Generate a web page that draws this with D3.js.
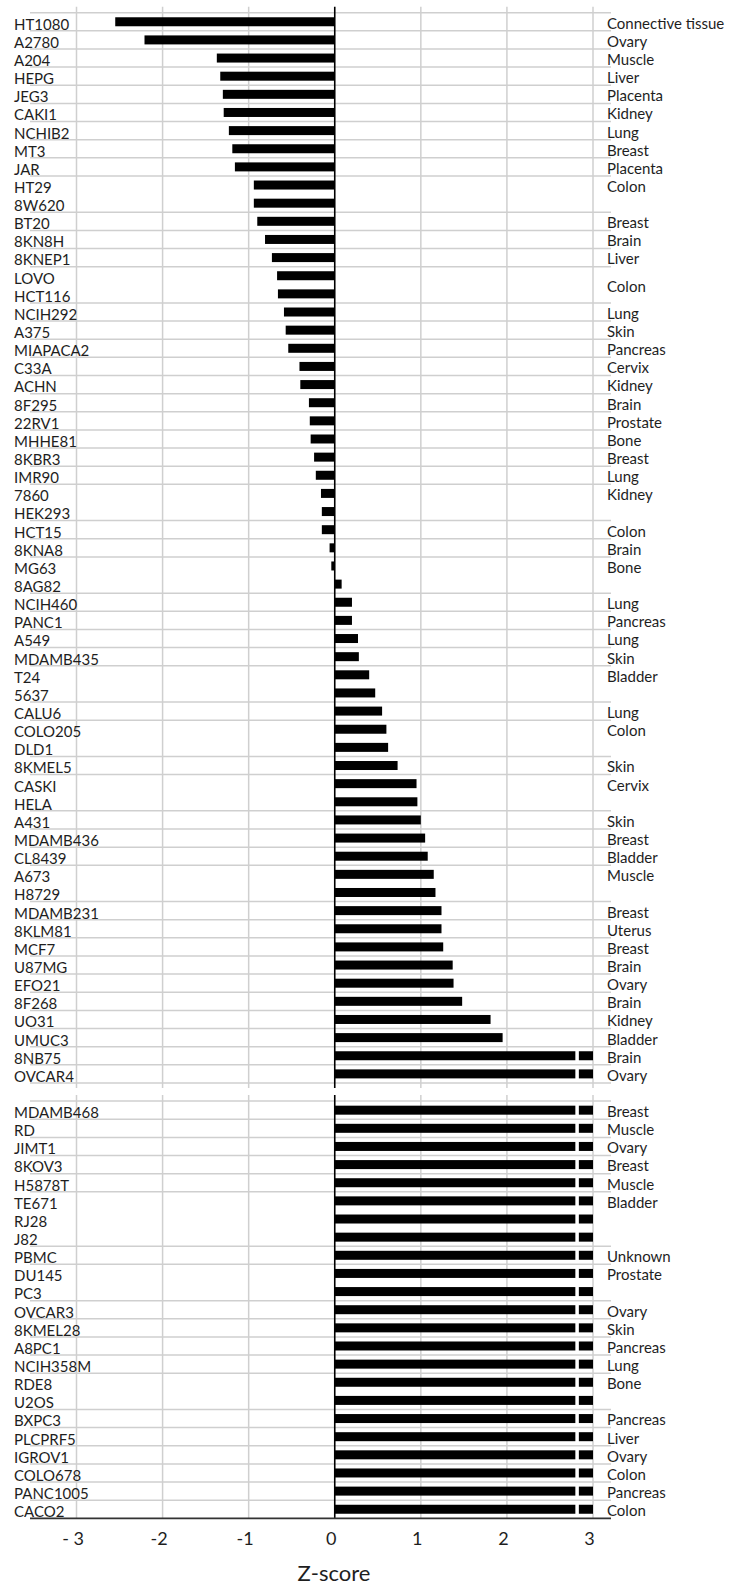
<!DOCTYPE html>
<html>
<head>
<meta charset="utf-8">
<script src="https://cdn.jsdelivr.net/npm/d3@7"></script>
<style>
  body { margin: 0; background: #fff; }
  text { font-family: Lato, "Open Sans", sans-serif; fill: #1e1e1e; }
</style>
</head>
<body>
<div id="chart"></div>
<script>
// Cell lines, upper panel (sorted by Z-score)
var cellLinesTop = ["HT1080", "A2780", "A204", "HEPG", "JEG3", "CAKI1", "NCHIB2", "MT3", "JAR", "HT29",
    "8W620", "BT20", "8KN8H", "8KNEP1", "LOVO", "HCT116", "NCIH292", "A375", "MIAPACA2", "C33A",
    "ACHN", "8F295", "22RV1", "MHHE81", "8KBR3", "IMR90", "7860", "HEK293", "HCT15", "8KNA8",
    "MG63", "8AG82", "NCIH460", "PANC1", "A549", "MDAMB435", "T24", "5637", "CALU6", "COLO205",
    "DLD1", "8KMEL5", "CASKI", "HELA", "A431", "MDAMB436", "CL8439", "A673", "H8729", "MDAMB231",
    "8KLM81", "MCF7", "U87MG", "EFO21", "8F268", "UO31", "UMUC3", "8NB75", "OVCAR4"];

// Z-scores, upper panel (3 = off the scale, drawn broken)
var zTop = [-2.55, -2.21, -1.37, -1.33, -1.30, -1.29, -1.23, -1.19, -1.16, -0.94,
    -0.94, -0.90, -0.81, -0.73, -0.67, -0.66, -0.59, -0.57, -0.54, -0.41,
    -0.40, -0.30, -0.29, -0.28, -0.24, -0.22, -0.16, -0.15, -0.15, -0.06,
    -0.04, 0.08, 0.20, 0.20, 0.27, 0.28, 0.40, 0.47, 0.55, 0.60,
    0.62, 0.73, 0.95, 0.96, 1.00, 1.05, 1.08, 1.15, 1.17, 1.24,
    1.24, 1.26, 1.37, 1.38, 1.48, 1.81, 1.95, 3, 3];

// Tissue of origin ("" = same group as the row above)
var tissueTop = ["Connective tissue", "Ovary", "Muscle", "Liver", "Placenta", "Kidney", "Lung", "Breast", "Placenta", "Colon",
    "", "Breast", "Brain", "Liver", "Colon", "", "Lung", "Skin", "Pancreas", "Cervix",
    "Kidney", "Brain", "Prostate", "Bone", "Breast", "Lung", "Kidney", "", "Colon", "Brain",
    "Bone", "", "Lung", "Pancreas", "Lung", "Skin", "Bladder", "", "Lung", "Colon",
    "", "Skin", "Cervix", "", "Skin", "Breast", "Bladder", "Muscle", "", "Breast",
    "Uterus", "Breast", "Brain", "Ovary", "Brain", "Kidney", "Bladder", "Brain", "Ovary"];

// Cell lines, lower panel (all off the scale)
var cellLinesBottom = ["MDAMB468", "RD", "JIMT1", "8KOV3", "H5878T", "TE671", "RJ28", "J82", "PBMC", "DU145",
    "PC3", "OVCAR3", "8KMEL28", "A8PC1", "NCIH358M", "RDE8", "U2OS", "BXPC3", "PLCPRF5", "IGROV1",
    "COLO678", "PANC1005", "CACO2"];

var zBottom = [3, 3, 3, 3, 3, 3, 3, 3, 3, 3,
    3, 3, 3, 3, 3, 3, 3, 3, 3, 3,
    3, 3, 3];

var tissueBottom = ["Breast", "Muscle", "Ovary", "Breast", "Muscle", "Bladder", "", "", "Unknown", "Prostate",
    "", "Ovary", "Skin", "Pancreas", "Lung", "Bone", "", "Pancreas", "Liver", "Ovary",
    "Colon", "Pancreas", "Colon"];

var tickValues = [-3, -2, -1, 0, 1, 2, 3];
var tickLabels = ["- 3", "-2", "-1", "0", "1", "2", "3"];

var svgWidth = 734;
var svgHeight = 1589;

var svg = d3.select("#chart")
    .append("svg")
    .attr("width", svgWidth)
    .attr("height", svgHeight);

// Build rows: upper panel, one empty slot, lower panel
var rows = [];
cellLinesTop.forEach(function(name, i) {
    rows.push({ name: name, z: zTop[i], tissue: tissueTop[i], slot: i, panel: 0 });
});
cellLinesBottom.forEach(function(name, i) {
    rows.push({ name: name, z: zBottom[i], tissue: tissueBottom[i], slot: cellLinesTop.length + 1 + i, panel: 1 });
});
var nSlots = cellLinesTop.length + 1 + cellLinesBottom.length;

var xScale = d3.scaleLinear()
    .domain([-3, 3])
    .range([76.5, 593]);

var yScale = d3.scaleBand()
    .domain(d3.range(nSlots))
    .range([12.7, 12.7 + nSlots * 18.14])
    .padding(0);

var bw = yScale.bandwidth();
var gridLeft = 30, gridRight = 611;

var panels = [
    { first: 0, last: cellLinesTop.length - 1 },
    { first: cellLinesTop.length + 1, last: nSlots - 1 }
];

// Vertical gridlines per panel
panels.forEach(function(p, pi) {
    var y0 = yScale(p.first) - 6;
    var y1 = yScale(p.last) + bw + (pi == 0 ? 5 : 0);
    svg.append("g").selectAll("line")
        .data(tickValues.filter(d => d != 0))
        .enter()
        .append("line")
        .attr("x1", d => xScale(d))
        .attr("x2", d => xScale(d))
        .attr("y1", y0)
        .attr("y2", y1)
        .attr("stroke", "#cfcfcf")
        .attr("stroke-width", 1.5);
});

// Horizontal lines at the top of each tissue group + panel bottoms
var hLines = [];
rows.forEach(function(r, i) {
    var isFirst = (r.slot == panels[r.panel].first);
    if (r.tissue != "" || isFirst) hLines.push(yScale(r.slot));
});
hLines.push(yScale(panels[0].last) + bw);

svg.append("g").selectAll("line")
    .data(hLines)
    .enter()
    .append("line")
    .attr("x1", gridLeft)
    .attr("x2", gridRight)
    .attr("y1", d => d)
    .attr("y2", d => d)
    .attr("stroke", "#cfcfcf")
    .attr("stroke-width", 1.5);

// Bars
var barH = 9;
svg.append("g").selectAll("rect")
    .data(rows)
    .enter()
    .append("rect")
    .attr("x", d => xScale(Math.min(0, d.z)))
    .attr("y", d => yScale(d.slot) + bw / 2 - barH / 2)
    .attr("width", d => Math.abs(xScale(d.z) - xScale(0)))
    .attr("height", barH)
    .attr("fill", "#000");

// Break marks on the off-scale bars
svg.append("g").selectAll("rect")
    .data(rows.filter(d => d.z >= 3))
    .enter()
    .append("rect")
    .attr("x", xScale(2.795))
    .attr("y", d => yScale(d.slot) + bw / 2 - barH / 2 - 1)
    .attr("width", 3.5)
    .attr("height", barH + 2)
    .attr("fill", "#fff");

// Zero line per panel
panels.forEach(function(p, pi) {
    svg.append("line")
        .attr("x1", xScale(0))
        .attr("x2", xScale(0))
        .attr("y1", yScale(p.first) - 6)
        .attr("y2", yScale(p.last) + bw + (pi == 0 ? 5 : 0))
        .attr("stroke", "#000")
        .attr("stroke-width", 1.6);
});

// Bottom axis line
var axisY = yScale(panels[1].last) + bw;
svg.append("line")
    .attr("x1", gridLeft)
    .attr("x2", gridRight)
    .attr("y1", axisY)
    .attr("y2", axisY)
    .attr("stroke", "#333")
    .attr("stroke-width", 1.8);

// Cell line names
svg.append("g").selectAll("text")
    .data(rows)
    .enter()
    .append("text")
    .attr("x", 14)
    .attr("y", d => yScale(d.slot) + bw / 2 + 2.5)
    .attr("dy", "0.36em")
    .style("font-size", "15px")
    .text(d => d.name);

// Tissue names (LOVO/HCT116 label sits between the two rows)
var labelShift = { "LOVO": 0.5 };
svg.append("g").selectAll("text")
    .data(rows.filter(d => d.tissue != ""))
    .enter()
    .append("text")
    .attr("x", 607)
    .attr("y", d => yScale(d.slot) + bw / 2 + 1.5 + (labelShift[d.name] || 0) * bw)
    .attr("dy", "0.36em")
    .style("font-size", "15px")
    .text(d => d.tissue);

// Tick labels
var bottomAxis = d3.axisBottom(xScale)
    .tickValues(tickValues)
    .tickFormat((d, i) => tickLabels[i])
    .tickSize(0)
    .tickPadding(14);

var axisG = svg.append("g")
    .attr("transform", `translate(-4, ${axisY})`)
    .call(bottomAxis);
axisG.select(".domain").remove();
axisG.selectAll("text")
    .style("font-family", "Lato, sans-serif")
    .style("font-size", "18px")
    .attr("fill", "#1e1e1e");

// Axis title
svg.append("text")
    .attr("x", 334)
    .attr("y", 1581)
    .style("text-anchor", "middle")
    .style("font-size", "22px")
    .text("Z-score");
</script>
</body>
</html>
